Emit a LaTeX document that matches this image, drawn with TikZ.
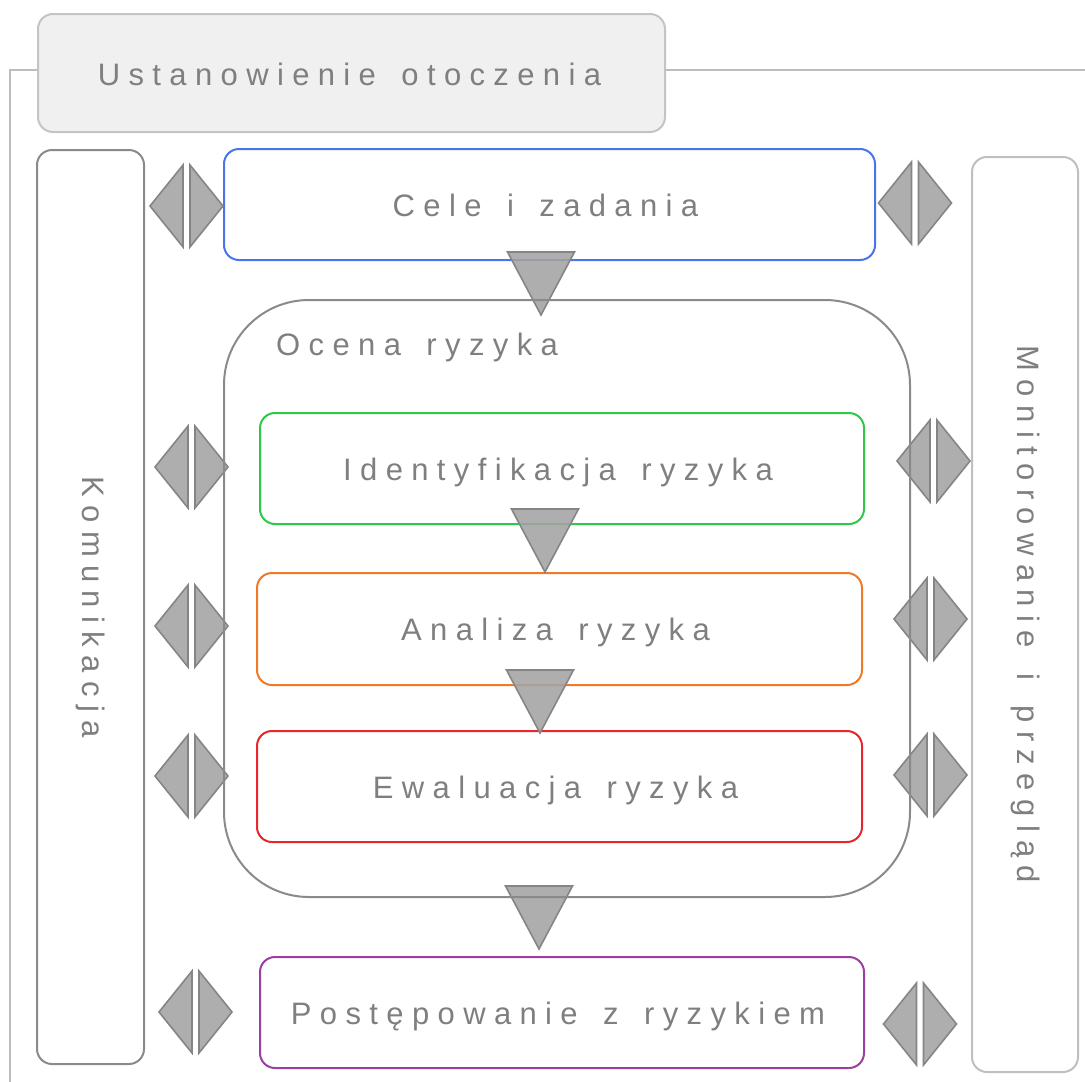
\documentclass[tikz,border=0pt]{standalone}
\usepackage{fontspec}
\setmainfont{Liberation Sans}[LetterSpace=27,WordSpace=1.5]
\definecolor{txt}{HTML}{7F7F7F}
\definecolor{hdrfill}{HTML}{F0F0F0}
\definecolor{hdrline}{HTML}{C4C4C4}
\definecolor{frameline}{HTML}{BDBDBD}
\definecolor{darkline}{HTML}{8A8A8A}
\definecolor{lightline}{HTML}{BFBFBF}
\definecolor{cblue}{HTML}{4A74E8}
\definecolor{cgreen}{HTML}{2EC94B}
\definecolor{corange}{HTML}{F07A2A}
\definecolor{cred}{HTML}{E8262B}
\definecolor{cpurple}{HTML}{9B3FA0}
\definecolor{afill}{HTML}{A3A3A3}
\definecolor{aline}{HTML}{858585}
\tikzset{
  lbl/.style={font=\fontsize{31}{36}\selectfont, text=txt},
  box/.style={draw, rectangle, rounded corners=15pt, inner sep=0pt, line width=2pt, lbl},
  procbox/.style={box, text height=23.5pt, text depth=0pt, execute at end node={\hspace*{8pt}}},
  arrowpart/.style={fill=afill, draw=aline, line width=1.6pt, fill opacity=0.88, line join=miter},
  framestyle/.style={draw=frameline, line width=2pt},
  dblarrow/.pic={
    \path[arrowpart] (-3.5,-41) -- (-3.5,41) -- (-36.5,0) -- cycle;
    \path[arrowpart] (3.5,-41) -- (3.5,41) -- (36.5,0) -- cycle;
  },
  downarrow/.pic={
    \path[arrowpart] (-33.5,0) -- (33.5,0) -- (0,63) -- cycle;
  }
}
\begin{document}
\begin{tikzpicture}[x=1pt,y=-1pt]
\useasboundingbox (0,0) rectangle (1085,1082);
% outer frame
\coordinate (fbl) at (10,1090);
\coordinate (ftl) at (10,70);
\coordinate (ftr) at (1090,70);
\draw[framestyle] (fbl) -- (ftl) -- (ftr);
% header
\node[box, draw=hdrline, fill=hdrfill, minimum width=627pt, minimum height=118pt, text height=24pt, text depth=0pt] (hdr) at (351.5,73) {Ustanowienie otoczenia\hspace*{4pt}};
% side boxes
\node[box, draw=darkline, rotate=-90, minimum width=914pt, minimum height=107pt] (kom) at (90.5,607) {Komunikacja};
\node[box, draw=lightline, rotate=-90, minimum width=915pt, minimum height=106pt] (mon) at (1025,614.5) {Monitorowanie i przegląd};
% process boxes
\node[procbox, draw=cblue, minimum width=651pt, minimum height=111pt] (cele) at (549.5,204.5) {Cele i zadania};
\node[procbox, draw=cgreen, minimum width=604pt, minimum height=111pt] (ident) at (562,468.5) {Identyfikacja ryzyka};
\node[procbox, draw=corange, minimum width=605pt, minimum height=112pt] (anal) at (559.5,629) {Analiza ryzyka};
\node[procbox, draw=cred, minimum width=605pt, minimum height=111pt] (ewal) at (559.5,786.5) {Ewaluacja ryzyka};
\node[procbox, draw=cpurple, minimum width=604pt, minimum height=111pt] (post) at (562,1012.5) {Postępowanie z ryzykiem};
% flow arrows
\pic at (541,252) {downarrow};
\pic at (545,509) {downarrow};
\pic at (540,670) {downarrow};
\pic at (539,886) {downarrow};
% exchange arrows left
\pic at (186.5,206) {dblarrow};
\pic at (191.5,467) {dblarrow};
\pic at (191.5,626) {dblarrow};
\pic at (191.5,776) {dblarrow};
\pic at (195.5,1012) {dblarrow};
% exchange arrows right
\pic at (915,203) {dblarrow};
\pic at (933.5,461) {dblarrow};
\pic at (930.5,619) {dblarrow};
\pic at (930.5,775) {dblarrow};
\pic at (920,1024) {dblarrow};
% risk assessment group
\node[box, draw=darkline, rounded corners=85pt, minimum width=686pt, minimum height=597pt] (ocena) at (567,598.5) {};
\node[lbl, anchor=base west, inner sep=0pt] (ocenalbl) at (276,355) {Ocena ryzyka};
\end{tikzpicture}
\end{document}
